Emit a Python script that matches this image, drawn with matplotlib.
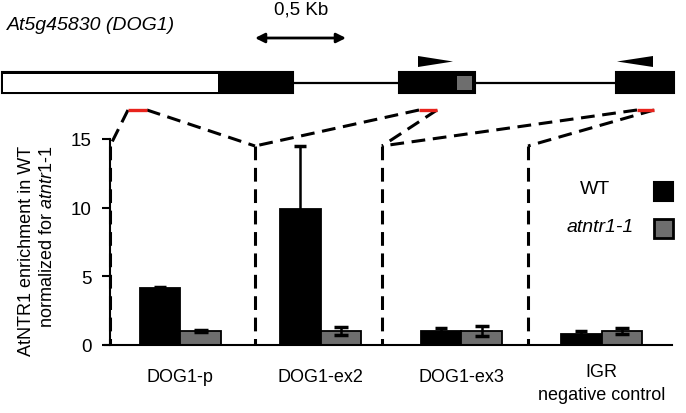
import matplotlib
matplotlib.use("Agg")
import matplotlib.pyplot as plt
from matplotlib.patches import Rectangle, Polygon
import numpy as np

plt.rcParams['font.family'] = ['Liberation Sans', 'DejaVu Sans']
plt.rcParams['mathtext.fontset'] = 'custom'
plt.rcParams['mathtext.rm'] = 'Liberation Sans'
plt.rcParams['mathtext.it'] = 'Liberation Sans:italic'

# ChIP data
regions = ["DOG1-p", "DOG1-ex2", "DOG1-ex3", "IGR\nnegative control"]
wt = [4.12, 9.9, 1.04, 0.82]
wt_err = [0.08, 4.6, 0.22, 0.2]
mut = [1.02, 1.02, 1.02, 1.04]
mut_err = [0.08, 0.32, 0.33, 0.23]
yticks = [0, 5, 10, 15]

# gene model drawn in figure pixels (schematic)
exons = [(2, 293), (399, 475), (616, 674)]
utr = (2, 217)
gray_part = (457, 472)
primers = [(128, 147), (419, 437), (637, 654)]
# where the probe connectors meet the bar chart (x pixel)
drops = [110, 255, 382, 528]
links = [(0, 0, 0), (0, 1, 1), (1, 0, 1), (1, 1, 2), (2, 0, 2), (2, 1, 3)]

fs = 13
black = "#000000"
gray = "#6e6e6e"
red = "#e8231c"

fig = plt.figure(figsize=(6.86, 4.14), dpi=100)
W, H = 686, 414

ax = fig.add_axes([110 / W, (H - 346) / H, 562 / W, 206 / H])
x = np.arange(len(regions))
bw = 0.29
ax.bar(x - bw / 2, wt, bw, color=black, edgecolor=black, linewidth=1.3, zorder=2)
ax.bar(x + bw / 2, mut, bw, color=gray, edgecolor=black, linewidth=1.3, zorder=2)
ax.errorbar(x - bw / 2, wt, yerr=wt_err, fmt='none', ecolor=black,
            elinewidth=1.8, capsize=4, capthick=2.5, zorder=3)
ax.errorbar(x + bw / 2, mut, yerr=mut_err, fmt='none', ecolor=black,
            elinewidth=1.8, capsize=5, capthick=2.5, zorder=3)

ax.set_xlim(-0.5, 3.5)
ax.set_ylim(0, 15)
ax.set_yticks(yticks)
ax.tick_params(axis='y', labelsize=13.5, length=6, width=1.5, pad=7)
ax.set_xticks([])
for s in ['top', 'right']:
    ax.spines[s].set_visible(False)
ax.spines['left'].set_linewidth(1.5)
ax.spines['bottom'].set_linewidth(1.5)
ax.spines['bottom'].set_bounds(-0.535, 3.5)

for i, lab in enumerate(regions):
    yy = -0.153 if "\n" not in lab else -0.185
    ax.text(x[i], yy, lab, transform=ax.get_xaxis_transform(), ha='center',
            va='center', fontsize=fs, linespacing=1.45)

fig.text(37 / W, 1 - 251 / H,
         "AtNTR1 enrichment in WT\nnormalized for $\\mathit{atntr1}$-$\\mathit{1}$",
         rotation=90, ha='center', va='center', multialignment='right',
         fontsize=fs, linespacing=1.25)

# overlay in pixel coordinates for the gene schematic
ov = fig.add_axes([0, 0, 1, 1], zorder=5)
ov.set_xlim(0, W)
ov.set_ylim(H, 0)
ov.axis('off')
ov.patch.set_alpha(0)

ov.text(7, 26, "At5g45830 (DOG1)", style='italic', fontsize=14, ha='left', va='center')
ov.text(301, 10, "0,5 Kb", fontsize=13.5, ha='center', va='center')
ov.annotate('', xy=(346, 39), xytext=(255, 39),
            arrowprops=dict(arrowstyle='<|-|>', lw=2, color=black,
                            mutation_scale=14, shrinkA=0, shrinkB=0))

ybox, hbox = 73, 21
ov.plot([exons[0][1], exons[-1][0]], [83.5, 83.5], color=black, lw=1.6, zorder=1)
for a, b in exons:
    ov.add_patch(Rectangle((a, ybox), b - a, hbox, facecolor=black,
                           edgecolor=black, lw=1.5, zorder=2))
ov.add_patch(Rectangle((utr[0] + 1, ybox + 1.5), utr[1] - utr[0], hbox - 3,
                       facecolor='white', edgecolor='none', zorder=3))
ov.add_patch(Rectangle((gray_part[0], 77), gray_part[1] - gray_part[0], 14,
                       facecolor=gray, edgecolor='none', zorder=3))
ov.add_patch(Polygon([(418, 57), (418, 68), (453, 62.5)], closed=True,
                     facecolor=black, edgecolor='none'))
ov.add_patch(Polygon([(653, 57), (653, 68), (617, 62.5)], closed=True,
                     facecolor=black, edgecolor='none'))

dash = (0, (4.5, 2.5))
for a, b in primers:
    ov.plot([a, b], [111, 111], color=red, lw=2.4, solid_capstyle='butt', zorder=4)
for p, side, d in links:
    ov.plot([primers[p][side], drops[d]], [111, 147], color=black, lw=2.2,
            linestyle=dash, zorder=3)
for d in drops:
    ov.plot([d, d], [147, 346], color=black, lw=2.2, linestyle=dash, zorder=3)

# legend
ov.text(595, 190, "WT", fontsize=14, ha='center', va='center')
ov.text(600, 228, "atntr1-1", fontsize=14, style='italic', ha='center', va='center')
ov.add_patch(Rectangle((654, 183), 19, 19, facecolor=black, edgecolor=black, lw=1.5))
ov.add_patch(Rectangle((654, 220), 19, 19, facecolor=gray, edgecolor=black, lw=2))

fig.savefig("out.png", dpi=100)
